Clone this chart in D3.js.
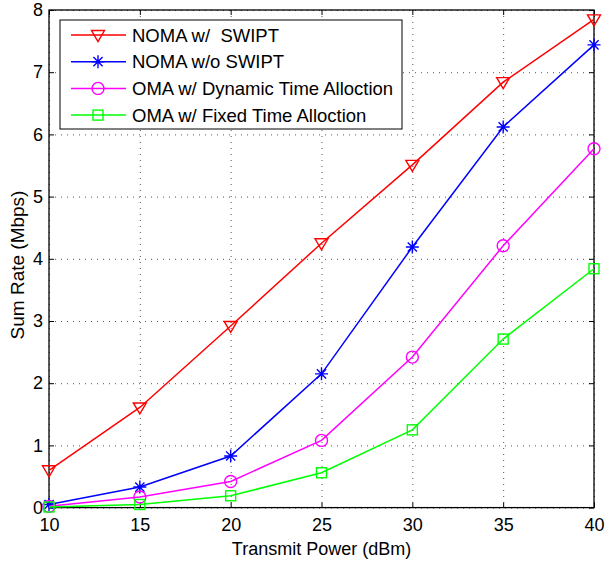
<!DOCTYPE html>
<html>
  <head>
    <script src="https://d3js.org/d3.v7.min.js"></script>
    <style>
      body { margin: 0; background: #fff; }
      svg { font-family: "Liberation Sans", Arial, Helvetica, sans-serif; }
      .tick text { font-size: 18px; fill: #000; }
      .grid line { stroke: #555; stroke-dasharray: 1,5; stroke-width: 1; }
      .grid path { display: none; }
      .grid text { display: none; }
    </style>
  </head>
  <body>
    <div id="chart"></div>
    <script>
      // data
      const power = [10, 15, 20, 25, 30, 35, 40];
      const nomaSwipt = [0.6, 1.61, 2.92, 4.25, 5.51, 6.84, 7.85];
      const nomaNoSwipt = [0.05, 0.33, 0.83, 2.15, 4.19, 6.12, 7.44];
      const omaDynamic = [0.02, 0.17, 0.42, 1.08, 2.42, 4.21, 5.77];
      const omaFixed = [0.01, 0.05, 0.19, 0.56, 1.25, 2.71, 3.84];

      const seriesNames = ["NOMA w/  SWIPT", "NOMA w/o SWIPT", "OMA w/ Dynamic Time Alloction", "OMA w/ Fixed Time Alloction"];
      const seriesValues = [nomaSwipt, nomaNoSwipt, omaDynamic, omaFixed];
      const seriesColors = ["#ff0000", "#0000ff", "#ff00ff", "#00ff00"];
      const seriesMarkers = ["triangle", "star", "circle", "square"];

      const xTicks = [10, 15, 20, 25, 30, 35, 40];
      const yTicks = [0, 1, 2, 3, 4, 5, 6, 7, 8];

      const W = 605, H = 562;
      const margin = { top: 10, right: 11, bottom: 54.4, left: 49 };
      const width = W - margin.left - margin.right;
      const height = H - margin.top - margin.bottom;

      const svg = d3.select("#chart").append("svg")
        .attr("width", W).attr("height", H);
      const g = svg.append("g")
        .attr("transform", `translate(${margin.left},${margin.top})`);

      const x = d3.scaleLinear().domain([10, 40]).range([0, width]);
      const y = d3.scaleLinear().domain([0, 8]).range([height, 0]);

      // dotted grid
      g.append("g").attr("class", "grid")
        .call(d3.axisLeft(y).tickValues(yTicks).tickSize(-width));
      g.append("g").attr("class", "grid")
        .call(d3.axisTop(x).tickValues(xTicks).tickSize(-height));

      // axes with inward ticks
      const ax = g.append("g").attr("transform", `translate(0,${height})`)
        .call(d3.axisBottom(x).tickValues(xTicks).tickSizeInner(-5).tickSizeOuter(0).tickPadding(11));
      g.append("g")
        .call(d3.axisLeft(y).tickValues(yTicks).tickSizeInner(-5).tickSizeOuter(0).tickPadding(6));
      g.append("g")
        .call(d3.axisTop(x).tickValues(xTicks).tickSizeInner(-5).tickSizeOuter(0).tickFormat(""));
      g.append("g").attr("transform", `translate(${width},0)`)
        .call(d3.axisRight(y).tickValues(yTicks).tickSizeInner(-5).tickSizeOuter(0).tickFormat(""));
      g.selectAll(".domain").attr("stroke", "none");
      g.selectAll(".tick line").filter(function () { return !this.closest(".grid"); })
        .attr("stroke", "#000");
      ax.selectAll("text").attr("dy", "0.71em");

      // border
      g.append("rect").attr("width", width).attr("height", height)
        .attr("fill", "none").attr("stroke", "#000").attr("stroke-width", 1.3);

      const line = d3.line().x((d, i) => x(power[i])).y(d => y(d));

      function marker(sel, type, color) {
        sel.attr("fill", "none").attr("stroke", color).attr("stroke-width", 1.4);
        if (type === "triangle") {
          sel.append("path").attr("d", "M-6.5,-4.5L6.5,-4.5L0,6.5Z");
        } else if (type === "star") {
          sel.append("path").attr("d", "M0,-6.5V6.5M-6.5,0H6.5M-4.6,-4.6L4.6,4.6M-4.6,4.6L4.6,-4.6");
        } else if (type === "circle") {
          sel.append("circle").attr("r", 6);
        } else {
          sel.append("rect").attr("x", -5).attr("y", -5).attr("width", 10).attr("height", 10);
        }
      }

      seriesValues.forEach((vals, s) => {
        g.append("path").datum(vals)
          .attr("d", line)
          .attr("fill", "none")
          .attr("stroke", seriesColors[s])
          .attr("stroke-width", 1.5);
        vals.forEach((v, i) => {
          const m = g.append("g").attr("transform", `translate(${x(power[i])},${y(v)})`);
          marker(m, seriesMarkers[s], seriesColors[s]);
        });
      });

      // legend
      const leg = svg.append("g").attr("transform", "translate(60,20)");
      leg.append("rect").attr("width", 342).attr("height", 109)
        .attr("fill", "#fff").attr("stroke", "#000").attr("stroke-width", 1);
      seriesNames.forEach((name, s) => {
        const ly = 15 + s * 26.7;
        leg.append("line").attr("x1", 11).attr("x2", 66).attr("y1", ly).attr("y2", ly)
          .attr("stroke", seriesColors[s]).attr("stroke-width", 1.5);
        marker(leg.append("g").attr("transform", `translate(38,${ly})`), seriesMarkers[s], seriesColors[s]);
        leg.append("text").attr("x", 72).attr("y", ly + 6.5)
          .attr("font-size", 18.5).style("white-space", "pre")
          .text(name);
      });

      // axis labels
      svg.append("text")
        .attr("x", margin.left + width / 2).attr("y", 555)
        .attr("text-anchor", "middle").attr("font-size", 18)
        .text("Transmit Power (dBm)");
      svg.append("text")
        .attr("transform", `translate(24,265) rotate(-90)`)
        .attr("text-anchor", "middle").attr("font-size", 19)
        .text("Sum Rate (Mbps)");
    </script>
  </body>
</html>
